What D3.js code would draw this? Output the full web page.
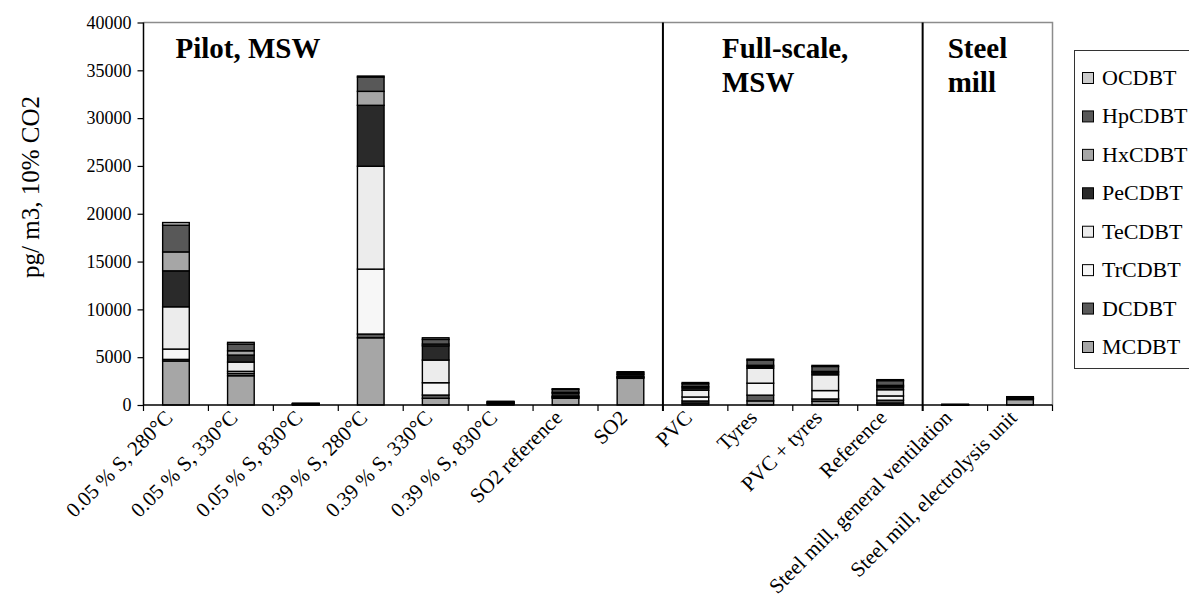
<!DOCTYPE html>
<html>
<head>
<meta charset="UTF-8">
<title>CDBT stacked bars</title>
<script src="https://d3js.org/d3.v7.min.js"></script>
<style>
  body { margin: 0; background: #fff; }
  text { font-family: "Liberation Serif", "Times New Roman", serif; fill: #000; }
</style>
</head>
<body>
<svg id="chart"></svg>
<script>

// categories along the x axis
const categories = [
  "0.05 % S, 280\u00b0C", "0.05 % S, 330\u00b0C", "0.05 % S, 830\u00b0C",
  "0.39 % S, 280\u00b0C", "0.39 % S, 330\u00b0C", "0.39 % S, 830\u00b0C",
  "SO2 reference", "SO2", "PVC", "Tyres", "PVC + tyres", "Reference",
  "Steel mill, general ventilation", "Steel mill, electrolysis unit"
];

// series, bottom of the stack first
const MCDBT  = [4600, 3060, 30, 7030, 700, 80, 700, 2790, 200, 430, 380, 200, 12, 570];
const DCDBT  = [170, 250, 20, 390, 340, 40, 100, 80, 220, 600, 250, 300, 5, 50];
const TrCDBT = [1080, 210, 20, 6790, 1290, 40, 50, 40, 420, 1250, 880, 450, 5, 20];
const TeCDBT = [4420, 970, 30, 10760, 2370, 60, 80, 60, 700, 1570, 1650, 650, 10, 30];
const PeCDBT = [3760, 730, 30, 6370, 1490, 60, 300, 200, 250, 160, 200, 300, 10, 50];
const HxCDBT = [1980, 450, 15, 1460, 180, 30, 100, 100, 150, 140, 150, 150, 5, 30];
const HpCDBT = [2790, 700, 20, 1500, 490, 50, 300, 150, 280, 550, 520, 500, 5, 80];
const OCDBT  = [280, 180, 10, 100, 170, 20, 70, 60, 130, 100, 110, 100, 3, 40];

const seriesNames = ["MCDBT", "DCDBT", "TrCDBT", "TeCDBT", "PeCDBT", "HxCDBT", "HpCDBT", "OCDBT"];
const seriesValues = [MCDBT, DCDBT, TrCDBT, TeCDBT, PeCDBT, HxCDBT, HpCDBT, OCDBT];
const seriesColors = ["#a6a6a6", "#595959", "#f7f7f7", "#ececec", "#2a2a2a", "#a6a6a6", "#585858", "#cccccc"];

const yTicks = [0, 5000, 10000, 15000, 20000, 25000, 30000, 35000, 40000];

// section headings: first category index, last+1, text lines
const sections = [
  { from: 0, to: 8, lines: ["Pilot, MSW"] },
  { from: 8, to: 12, lines: ["Full-scale,", "MSW"] },
  { from: 12, to: 14, lines: ["Steel", "mill"] }
];
const sectionDx = [32, 59, 25];

const W = 1189, H = 598;
const mLeft = 143.5, mRight = 1052.5, mTop = 22.5, mBottom = 405;

const svg = d3.select("#chart").attr("width", W).attr("height", H);

const x = d3.scaleBand().domain(categories).range([mLeft, mRight]).paddingInner(0.59).paddingOuter(0.295);
const xb = d3.scaleBand().domain(categories).range([mLeft, mRight]);
const y = d3.scaleLinear().domain([0, 40000]).range([mBottom, mTop]);

const table = categories.map((c, i) => {
  const row = { cat: c };
  seriesNames.forEach((s, j) => row[s] = seriesValues[j][i]);
  return row;
});
const stacked = d3.stack().keys(seriesNames)(table);

// plot frame (top and right in grey)
svg.append("path")
  .attr("d", `M${mLeft},${mTop}H${mRight}V${mBottom}`)
  .attr("fill", "none").attr("stroke", "#8c8c8c").attr("stroke-width", 1.5);

// bars
svg.append("g").selectAll("g")
  .data(stacked)
  .join("g")
    .attr("fill", (d, i) => seriesColors[i])
  .selectAll("rect")
  .data(d => d)
  .join("rect")
    .attr("x", d => x(d.data.cat))
    .attr("width", x.bandwidth())
    .attr("y", d => y(d[1]))
    .attr("height", d => Math.max(0, y(d[0]) - y(d[1])))
    .attr("stroke", "#000")
    .attr("stroke-width", 1.4);

// section separators
sections.slice(1).forEach(s => {
  const sx = xb(categories[s.from]);
  svg.append("line")
    .attr("x1", sx).attr("x2", sx).attr("y1", mTop).attr("y2", mBottom + 6)
    .attr("stroke", "#000").attr("stroke-width", 2);
});

// section titles
sections.forEach((s, k) => {
  const tx = xb(categories[s.from]) + sectionDx[k];
  const t = svg.append("text")
    .attr("x", tx)
    .attr("y", 58)
    .attr("font-size", 29)
    .attr("font-weight", "bold");
  s.lines.forEach((ln, j) => {
    t.append("tspan").attr("x", tx).attr("dy", j ? 34 : 0).text(ln);
  });
});

// y axis
const yAxis = svg.append("g")
  .attr("transform", `translate(${mLeft},0)`)
  .call(d3.axisLeft(y).tickValues(yTicks).tickSize(6).tickPadding(6).tickFormat(d3.format("d")));
yAxis.select(".domain").attr("stroke", "#000").attr("stroke-width", 1.5).attr("d", `M0,${mTop}V${mBottom}`);
yAxis.selectAll(".tick line").attr("stroke", "#000").attr("stroke-width", 1.2);
yAxis.selectAll(".tick text").attr("font-size", 18).attr("font-family", "Liberation Serif").attr("fill", "#000");

// x axis: ticks at band boundaries
const xAxisG = svg.append("g");
xAxisG.append("line")
  .attr("x1", mLeft).attr("x2", mRight).attr("y1", mBottom).attr("y2", mBottom)
  .attr("stroke", "#000").attr("stroke-width", 1.5);
xAxisG.selectAll("line.tk")
  .data(categories.concat(["__end"]))
  .join("line")
    .attr("class", "tk")
    .attr("x1", (d, i) => i < categories.length ? xb(d) : mRight)
    .attr("x2", (d, i) => i < categories.length ? xb(d) : mRight)
    .attr("y1", mBottom).attr("y2", mBottom + 6)
    .attr("stroke", "#000").attr("stroke-width", 1.2);

xAxisG.selectAll("text")
  .data(categories)
  .join("text")
    .attr("transform", d => `translate(${x(d) + x.bandwidth() / 2 - 2},${mBottom + 14}) rotate(-45)`)
    .attr("text-anchor", "end")
    .attr("font-size", 21)
    .text(d => d);

// y axis title
svg.append("text")
  .attr("transform", "translate(39,187) rotate(-90)")
  .attr("text-anchor", "middle")
  .attr("font-size", 25)
  .text("pg/ m3, 10% CO2");

// legend
const legend = svg.append("g");
legend.append("rect")
  .attr("x", 1074.5).attr("y", 50.5).attr("width", 130).attr("height", 318)
  .attr("fill", "#fff").attr("stroke", "#333").attr("stroke-width", 1);
const legendOrder = seriesNames.map((s, i) => i).reverse();
const ly = d3.scalePoint().domain(legendOrder).range([78, 347]);
legendOrder.forEach(i => {
  legend.append("rect")
    .attr("x", 1082.5).attr("y", ly(i) - 5.5).attr("width", 11).attr("height", 11)
    .attr("fill", seriesColors[i]).attr("stroke", "#000").attr("stroke-width", 1);
  legend.append("text")
    .attr("x", 1102).attr("y", ly(i) + 7)
    .attr("font-size", 22)
    .text(seriesNames[i]);
});

</script>
</body>
</html>
